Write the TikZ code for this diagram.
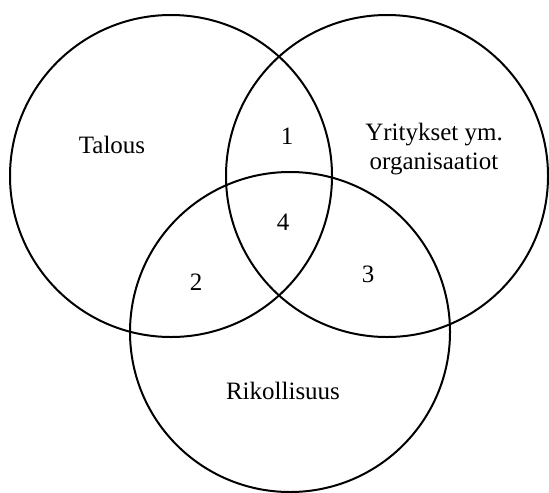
\documentclass[tikz,border=0pt]{standalone}
\usepackage{fontspec}
\setmainfont{Liberation Serif}
\begin{document}
\begin{tikzpicture}[x=0.5pt,y=-0.5pt,
  ympyra/.style={line width=1pt},
  teksti/.style={font=\fontsize{12.5}{14.5}\selectfont,align=center}]
\useasboundingbox (0,0) rectangle (549,492);
% Talous
\draw[ympyra] (171,176) circle(161);
\node[teksti] (talous) at (112,145) {Talous};

% Yritykset
\draw[ympyra] (387,176) circle(161);
\node[teksti] (yritykset) at (434,149) {Yritykset ym.\\organisaatiot};

% Rikollisuus
\draw[ympyra] (290,332) circle(160);
\node[teksti] (rikollisuus) at (283,391) {Rikollisuus};

% Leikkaukset
\node[teksti] (n1) at (287,136) {1};
\node[teksti] (n2) at (196,282) {2};
\node[teksti] (n3) at (368,274) {3};
\node[teksti] (n4) at (283,222) {4};
\end{tikzpicture}
\end{document}
